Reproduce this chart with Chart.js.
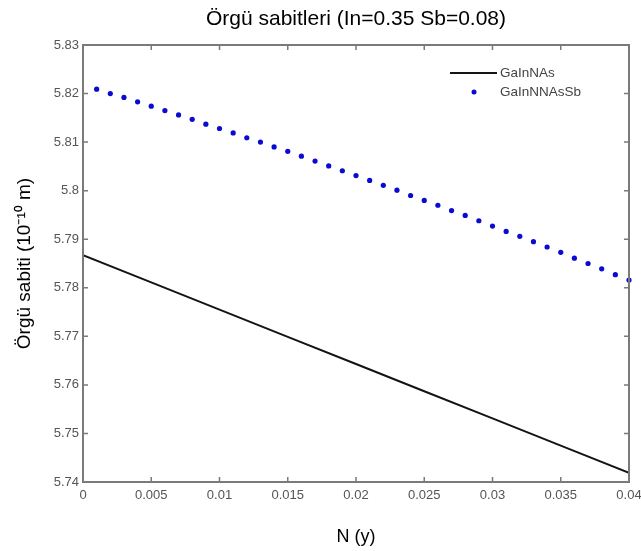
<!DOCTYPE html>
<html>
<head>
<meta charset="utf-8">
<script src="https://cdn.jsdelivr.net/npm/chart.js@4.4.1/dist/chart.umd.min.js"></script>
<style>
    html, body { margin: 0; padding: 0; background: #fff; }
    #wrap { width: 641px; height: 551px; }
</style>
</head>
<body>
<div id="wrap"><canvas id="chartOrgu"></canvas></div>
<script>
// Veriler
const nLine = [0, 0.005, 0.01, 0.015, 0.02, 0.025, 0.03, 0.035, 0.04];
const gaInNAs = [5.7867, 5.7811, 5.7755, 5.7699, 5.7643, 5.7587, 5.7531, 5.7475, 5.7419];

const nDots = [0.001, 0.002, 0.003, 0.004, 0.005, 0.006, 0.007, 0.008, 0.009, 0.010,
               0.011, 0.012, 0.013, 0.014, 0.015, 0.016, 0.017, 0.018, 0.019, 0.020,
               0.021, 0.022, 0.023, 0.024, 0.025, 0.026, 0.027, 0.028, 0.029, 0.030,
               0.031, 0.032, 0.033, 0.034, 0.035, 0.036, 0.037, 0.038, 0.039, 0.040];
const gaInNNAsSb = [5.8209, 5.8200, 5.8192, 5.8183, 5.8174, 5.8165, 5.8156, 5.8147, 5.8137, 5.8128,
                    5.8119, 5.8109, 5.8100, 5.8090, 5.8081, 5.8071, 5.8061, 5.8051, 5.8041, 5.8031,
                    5.8021, 5.8011, 5.8001, 5.7990, 5.7980, 5.7970, 5.7959, 5.7949, 5.7938, 5.7927,
                    5.7916, 5.7906, 5.7895, 5.7884, 5.7873, 5.7861, 5.7850, 5.7839, 5.7827, 5.7816];

const xTicks = [0, 0.005, 0.01, 0.015, 0.02, 0.025, 0.03, 0.035, 0.04];
const xTickLabels = ['0', '0.005', '0.01', '0.015', '0.02', '0.025', '0.03', '0.035', '0.04'];
const yTicks = [5.74, 5.75, 5.76, 5.77, 5.78, 5.79, 5.8, 5.81, 5.82, 5.83];
const yTickLabels = ['5.74', '5.75', '5.76', '5.77', '5.78', '5.79', '5.8', '5.81', '5.82', '5.83'];

const FONT = "'Liberation Sans', Arial, sans-serif";
const FRAME = '#7a7a7a';

// Çerçeve + içe dönük tik işaretleri (MATLAB tarzı)
const frameTicks = {
    id: 'frameTicks',
    afterDatasetsDraw(chart) {
        const ctx = chart.ctx;
        const a = chart.chartArea;
        const xs = chart.scales.x, ys = chart.scales.y;
        const len = 5;
        ctx.save();
        ctx.strokeStyle = FRAME;
        ctx.lineWidth = 1.5;
        ctx.beginPath();
        xs.ticks.forEach(t => {
            const px = xs.getPixelForValue(t.value);
            ctx.moveTo(px, a.bottom); ctx.lineTo(px, a.bottom - len);
            ctx.moveTo(px, a.top); ctx.lineTo(px, a.top + len);
        });
        ys.ticks.forEach(t => {
            const py = ys.getPixelForValue(t.value);
            ctx.moveTo(a.left, py); ctx.lineTo(a.left + len, py);
            ctx.moveTo(a.right, py); ctx.lineTo(a.right - len, py);
        });
        ctx.stroke();
        ctx.lineWidth = 2;
        ctx.strokeRect(a.left, a.top, a.right - a.left, a.bottom - a.top);
        ctx.restore();
    }
};

// Lejant (grafik alanının içinde, sağ üstte)
const innerLegend = {
    id: 'innerLegend',
    afterDraw(chart) {
        const ctx = chart.ctx;
        const a = chart.chartArea;
        const ds = chart.data.datasets;
        const x0 = a.right - 179, y0 = a.top + 28;
        ctx.save();
        ctx.font = '13.5px ' + FONT;
        ctx.fillStyle = '#444';
        ctx.textBaseline = 'middle';
        // satır 1: çizgi
        ctx.strokeStyle = ds[0].borderColor;
        ctx.lineWidth = 2;
        ctx.beginPath();
        ctx.moveTo(x0, y0); ctx.lineTo(x0 + 47, y0);
        ctx.stroke();
        ctx.fillText(ds[0].label, x0 + 50, y0);
        // satır 2: nokta
        ctx.fillStyle = ds[1].pointBackgroundColor;
        ctx.beginPath();
        ctx.arc(x0 + 24, y0 + 19, 2.5, 0, Math.PI * 2);
        ctx.fill();
        ctx.fillStyle = '#444';
        ctx.fillText(ds[1].label, x0 + 50, y0 + 19);
        ctx.restore();
    }
};

new Chart(document.getElementById('chartOrgu'), {
    type: 'line',
    data: {
        datasets: [{
            label: 'GaInNAs',
            data: nLine.map((n, i) => ({ x: n, y: gaInNAs[i] })),
            borderColor: '#141414',
            borderWidth: 2,
            pointRadius: 0,
            fill: false,
            tension: 0
        }, {
            label: 'GaInNNAsSb',
            data: nDots.map((n, i) => ({ x: n, y: gaInNNAsSb[i] })),
            showLine: false,
            pointRadius: 2.6,
            pointBackgroundColor: '#0a0ad0',
            pointBorderWidth: 0,
            clip: false
        }]
    },
    options: {
        responsive: true,
        maintainAspectRatio: false,
        animation: false,
        layout: { padding: { left: 0, right: 12, top: 0, bottom: 0 } },
        plugins: {
            legend: { display: false },
            tooltip: { enabled: false },
            title: {
                display: true,
                fullSize: false, // grafik alanının üstünde ortala
                text: 'Örgü sabitleri (In=0.35 Sb=0.08)',
                color: '#000',
                font: { family: FONT, size: 21, weight: 'normal' },
                padding: { top: 7, bottom: 12.8 }
            }
        },
        scales: {
            x: {
                type: 'linear',
                min: 0,
                max: 0.04,
                afterBuildTicks: s => { s.ticks = xTicks.map(v => ({ value: v })); },
                afterFit: s => { s.height = 69; s.paddingRight = 0; s.paddingLeft = 0; },
                grid: { display: false, drawTicks: false },
                border: { display: false },
                ticks: {
                    padding: 6,
                    color: '#555',
                    maxRotation: 0,
                    font: { family: FONT, size: 13 },
                    callback: (v, i) => xTickLabels[i]
                },
                title: {
                    display: true,
                    text: 'N (y)',
                    color: '#000',
                    font: { family: FONT, size: 18 },
                    padding: { top: 0, bottom: 3 }
                }
            },
            y: {
                type: 'linear',
                min: 5.74,
                max: 5.83,
                afterBuildTicks: s => { s.ticks = yTicks.map(v => ({ value: v })); },
                afterFit: s => { s.width = 83; s.paddingTop = 0; s.paddingBottom = 0; },
                grid: { display: false, drawTicks: false },
                border: { display: false },
                ticks: {
                    padding: 4,
                    color: '#555',
                    font: { family: FONT, size: 13 },
                    callback: (v, i) => yTickLabels[i]
                },
                title: {
                    display: true,
                    text: 'Örgü sabiti (10⁻¹⁰ m)',
                    color: '#000',
                    font: { family: FONT, size: 19 },
                    padding: { top: 13, bottom: 0 }
                }
            }
        }
    },
    plugins: [frameTicks, innerLegend]
});
</script>
</body>
</html>
